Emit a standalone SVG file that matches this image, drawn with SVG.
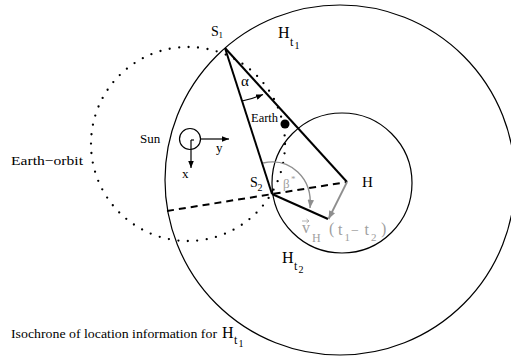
<svg xmlns="http://www.w3.org/2000/svg" width="511" height="356" viewBox="0 0 511 356">
<defs>
<marker id="ab" viewBox="0 0 10 8" refX="10" refY="4" markerWidth="7" markerHeight="5.6" markerUnits="userSpaceOnUse" orient="auto"><path d="M0,0 L10,4 L0,8 z" fill="#000"/></marker>
<marker id="ag" viewBox="0 0 10 8" refX="10" refY="4" markerWidth="9" markerHeight="6.5" markerUnits="userSpaceOnUse" orient="auto"><path d="M0,0 L10,4 L0,8 z" fill="#8e8e8e"/></marker>
</defs>
<style>
text{font-family:"Liberation Serif","Times New Roman",serif;fill:#000}
text.g{fill:#a0a0a0}
.thin{fill:none;stroke:#000;stroke-width:1.2}
.thick{fill:none;stroke:#000;stroke-width:2}
.dots{fill:none;stroke:#000;stroke-width:2.3;stroke-linecap:round;stroke-dasharray:0 9.52}
</style>
<rect width="511" height="356" fill="#fff"/>

<g id="isochrone-Ht1">
<circle class="thin" cx="340" cy="180" r="175"/>
<text x="278" y="38" font-size="16">H</text><text x="290" y="46" font-size="12">t</text><text x="294.5" y="49" font-size="10">1</text>
<text x="11" y="338" font-size="13.5" textLength="206" lengthAdjust="spacingAndGlyphs">Isochrone of location information for</text>
<text x="222" y="338" font-size="16">H</text><text x="234" y="344" font-size="12">t</text><text x="238.5" y="347" font-size="10">1</text>
</g>

<g id="isochrone-Ht2">
<circle class="thin" cx="342" cy="183" r="70"/>
<text x="282" y="263" font-size="16">H</text><text x="294" y="270" font-size="12">t</text><text x="298.5" y="273" font-size="10">2</text>
</g>

<g id="earth-orbit">
<circle class="dots" cx="188" cy="144" r="97"/>
<text x="11" y="165" font-size="13.5" textLength="72" lengthAdjust="spacingAndGlyphs">Earth−orbit</text>
</g>

<g id="sun">
<circle class="thin" cx="190" cy="139" r="10.5"/>
<path class="thin" d="M191,140 H194" stroke-width="1"/>
<line x1="191" y1="140" x2="191" y2="168" stroke="#000" stroke-width="1.2" marker-end="url(#ab)"/>
<line x1="200.5" y1="139" x2="229" y2="139" stroke="#000" stroke-width="1.2" marker-end="url(#ab)"/>
<text x="140" y="143" font-size="13">Sun</text>
<text x="216" y="152" font-size="13">y</text>
<text x="182" y="178" font-size="13">x</text>
</g>

<g id="earth">
<circle cx="285" cy="124" r="4.5" fill="#000"/>
<text x="251" y="122" font-size="12.5">Earth</text>
</g>

<g id="S1">
<text x="211" y="36" font-size="14">S</text><text x="218.5" y="38" font-size="9">1</text>
</g>

<g id="S2">
<text x="250" y="187" font-size="14">S</text><text x="257.5" y="191" font-size="10">2</text>
</g>

<g id="H">
<text x="362" y="187" font-size="15">H</text>
</g>

<g id="connectors">
<line class="thick" x1="225" y1="48" x2="272" y2="194"/>
<line class="thick" x1="225" y1="48" x2="347" y2="182"/>
<line class="thick" x1="272" y1="194" x2="328" y2="219"/>
<line x1="167" y1="211" x2="347" y2="182" stroke="#000" stroke-width="2" stroke-dasharray="7 5"/>
<line x1="347" y1="182" x2="328.5" y2="219" stroke="#8e8e8e" stroke-width="1.8" marker-end="url(#ag)"/>
<path d="M242,101 Q252,99 263,94.5" fill="none" stroke="#000" stroke-width="1.2" marker-end="url(#ab)"/>
<path d="M263,163 C290,157 313,178 310,208" fill="none" stroke="#8e8e8e" stroke-width="1.4" marker-end="url(#ag)"/>
</g>

<g id="labels">
<text x="241" y="86" font-size="15">α</text>
<text class="g" x="283" y="188" font-size="13">β</text><text class="g" x="291" y="182" font-size="9">*</text>
<path d="M302,221 H309 M306.5,219 L309,221 L306.5,223" fill="none" stroke="#a0a0a0" stroke-width="0.8"/>
<text class="g" x="302" y="233" font-size="16">v</text>
<text class="g" x="312" y="242" font-size="12">H</text>
<text class="g" x="329" y="234" font-size="16">(</text>
<text class="g" x="338" y="235" font-size="16">t</text>
<text class="g" x="344.5" y="241" font-size="11">1</text>
<text class="g" x="351" y="235" font-size="14">−</text>
<text class="g" x="364.5" y="235" font-size="16">t</text>
<text class="g" x="371" y="241" font-size="11">2</text>
<text class="g" x="381" y="234" font-size="16">)</text>
</g>
</svg>
